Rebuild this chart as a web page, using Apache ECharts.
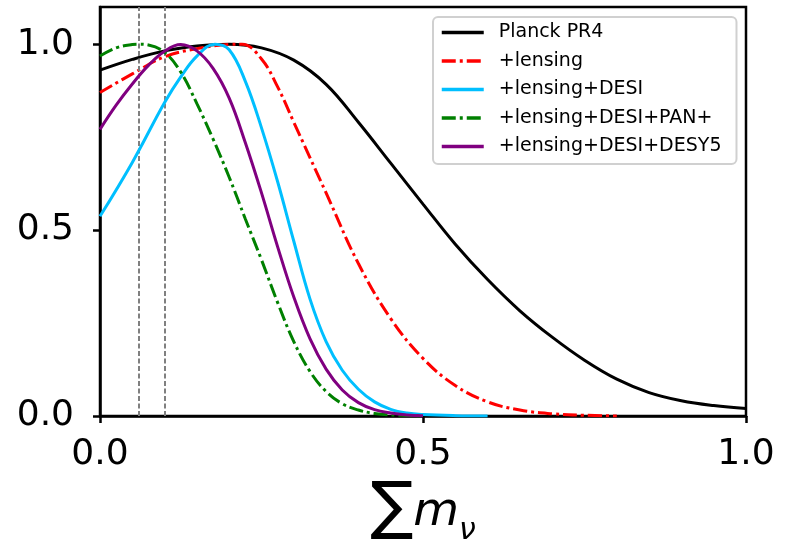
<!DOCTYPE html>
<html>
<head>
<meta charset="utf-8">
<script src="https://cdn.jsdelivr.net/npm/echarts@6/dist/echarts.min.js"></script>
<style>html,body{margin:0;padding:0;background:#fff;}#c{width:788px;height:545px;}</style>
</head>
<body>
<div id="c"></div>
<script>
// ---- data ----
var seriesNames = ['Planck PR4', '+lensing', '+lensing+DESI', '+lensing+DESI+PAN+', '+lensing+DESI+DESY5'];

var planckX = [0, 0.05, 0.1, 0.15, 0.2, 0.25, 0.3, 0.35, 0.4, 0.45, 0.5, 0.55, 0.6, 0.65, 0.7, 0.75, 0.8, 0.85, 0.9, 0.95, 1.0];
var planckY = [0.93, 0.959, 0.982, 0.995, 1.0, 0.99, 0.957, 0.892, 0.79, 0.68, 0.57, 0.462, 0.367, 0.283, 0.212, 0.15, 0.099, 0.063, 0.041, 0.028, 0.02];

var lensX = [0, 0.05, 0.1, 0.15, 0.2, 0.22, 0.25, 0.275, 0.3, 0.35, 0.4, 0.45, 0.5, 0.55, 0.6, 0.65, 0.7, 0.75, 0.8];
var lensY = [0.87, 0.92, 0.966, 0.988, 0.999, 1.0, 0.96, 0.885, 0.79, 0.6, 0.41, 0.262, 0.155, 0.082, 0.038, 0.016, 0.006, 0.002, 0.0];

var desiX = [0, 0.05, 0.1, 0.125, 0.15, 0.178, 0.2, 0.225, 0.25, 0.275, 0.3, 0.325, 0.35, 0.375, 0.4, 0.425, 0.45, 0.475, 0.5, 0.55, 0.6];
var desiY = [0.537, 0.682, 0.843, 0.912, 0.968, 1.0, 0.985, 0.9, 0.775, 0.63, 0.47, 0.315, 0.2, 0.123, 0.072, 0.038, 0.018, 0.008, 0.004, 0.001, 0.0];

var panX = [0, 0.025, 0.05, 0.06, 0.075, 0.1, 0.125, 0.15, 0.175, 0.2, 0.225, 0.25, 0.275, 0.3, 0.325, 0.35, 0.375, 0.4, 0.425, 0.45, 0.5];
var panY = [0.968, 0.99, 0.999, 1.0, 0.998, 0.978, 0.925, 0.84, 0.745, 0.642, 0.53, 0.42, 0.305, 0.2, 0.12, 0.066, 0.033, 0.016, 0.007, 0.003, 0.0];

var desy5X = [0, 0.025, 0.05, 0.075, 0.1, 0.125, 0.15, 0.175, 0.2, 0.225, 0.25, 0.275, 0.3, 0.325, 0.35, 0.375, 0.4, 0.425, 0.45, 0.475, 0.5];
var desy5Y = [0.771, 0.836, 0.893, 0.943, 0.981, 0.999, 0.982, 0.935, 0.855, 0.735, 0.6, 0.455, 0.32, 0.208, 0.126, 0.07, 0.036, 0.017, 0.008, 0.003, 0.001];

var refLinesX = [0.06, 0.1];
var xTicks = [0, 0.5, 1.0];
var yTicks = [0, 0.5, 1.0];

// ---- chart ----
function pairs(xs, ys) { return xs.map(function (x, i) { return [x, ys[i]]; }); }

var FONT = 'DejaVu Sans';
var colors = ['#000000', '#ff0000', '#00bfff', '#008000', '#800080'];
var dashDot = [14, 4, 3, 4];
var types = ['solid', dashDot, 'solid', dashDot, 'solid'];
var xs = [planckX, lensX, desiX, panX, desy5X];
var ys = [planckY, lensY, desiY, panY, desy5Y];

var series = seriesNames.map(function (n, i) {
  return {
    name: n, type: 'line', data: pairs(xs[i], ys[i]),
    symbol: 'none', showSymbol: false, smooth: 0.4, z: 3 + i,
    lineStyle: { color: colors[i], width: 3, type: types[i] },
    itemStyle: { color: colors[i] }
  };
});
series.unshift({
  name: 'refs', type: 'line', data: [], z: 1,
  markLine: {
    silent: true, symbol: 'none', label: { show: false },
    lineStyle: { color: '#808080', width: 2, type: [5, 2.5] },
    data: refLinesX.map(function (v) { return { xAxis: v }; })
  }
});

var chart = echarts.init(document.getElementById('c'), null, { renderer: 'canvas' });
chart.setOption({
  animation: false,
  backgroundColor: '#ffffff',
  grid: { left: 100, right: 42, top: 7, bottom: 129, show: true, borderColor: '#000', borderWidth: 2.5, backgroundColor: 'transparent', containLabel: false, outerBoundsMode: 'none' },
  legend: {
    data: seriesNames, orient: 'vertical', left: 433, top: 17,
    padding: [6, 15, 8, 7], itemGap: 9.5, itemWidth: 42, itemHeight: 14,
    backgroundColor: 'rgba(255,255,255,0.85)', borderColor: '#d0d0d0', borderWidth: 2, borderRadius: 5,
    textStyle: { fontFamily: FONT, fontSize: 19, color: '#000', lineHeight: 19, padding: [0, 0, 0, 10] },
    itemStyle: { color: 'rgba(0,0,0,0)', borderWidth: 0, borderColor: 'rgba(0,0,0,0)' },
    lineStyle: { width: 3.5 }
  },
  xAxis: {
    type: 'value', min: 0, max: 1, interval: 0.5,
    axisLine: { show: true, onZero: false, lineStyle: { color: '#000', width: 2.5 } },
    axisTick: { show: true, inside: false, length: 7, lineStyle: { color: '#000', width: 2.5 }, customValues: xTicks },
    axisLabel: { fontFamily: FONT, fontSize: 36, color: '#000', margin: 21, customValues: xTicks, formatter: function (v) { return v.toFixed(1); } },
    splitLine: { show: false },
    name: '{s|\u2211}{m|m}{n|\u03bd}', nameLocation: 'middle', nameGap: 61,
    nameTextStyle: {
      rich: {
        s: { fontFamily: FONT, fontSize: 64, color: '#000', verticalAlign: 'bottom' },
        m: { fontFamily: FONT, fontSize: 47, fontStyle: 'italic', color: '#000', verticalAlign: 'bottom', padding: [0, 0, 6, 0] },
        n: { fontFamily: FONT, fontSize: 30, fontStyle: 'italic', color: '#000', verticalAlign: 'bottom', padding: [0, 0, -4, 0] }
      }
    }
  },
  yAxis: {
    type: 'value', min: 0, max: 1.1, interval: 0.5,
    axisLine: { show: true, onZero: false, lineStyle: { color: '#000', width: 2.5 } },
    axisTick: { show: true, inside: false, length: 7, lineStyle: { color: '#000', width: 2.5 }, customValues: yTicks },
    axisLabel: { fontFamily: FONT, fontSize: 36, color: '#000', margin: 26, customValues: yTicks, formatter: function (v) { return v.toFixed(1); } },
    splitLine: { show: false }
  },
  series: series
});
</script>
</body>
</html>
